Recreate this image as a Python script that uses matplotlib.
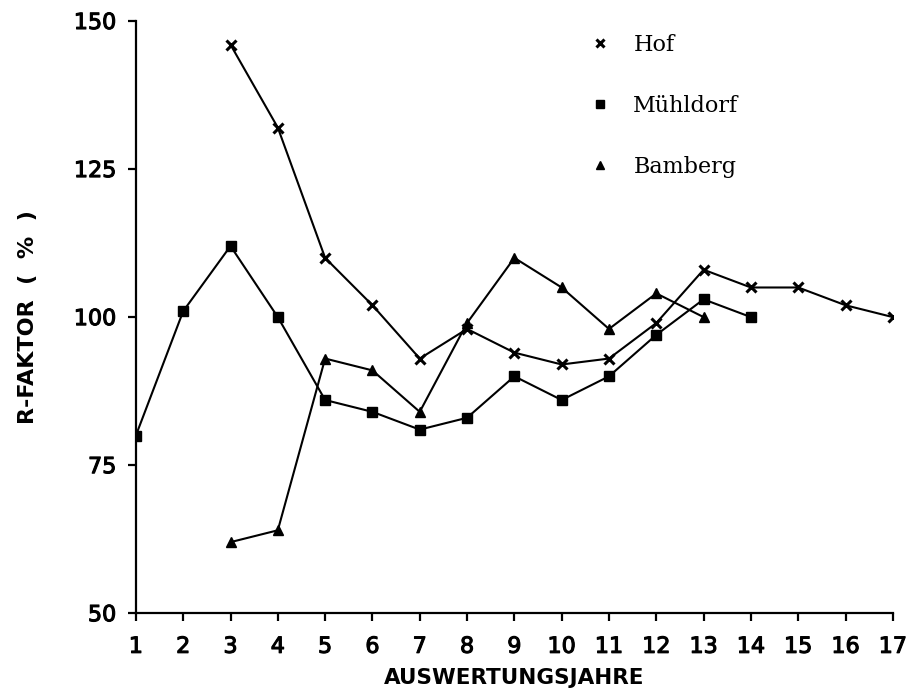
import numpy as np
import matplotlib
matplotlib.use("Agg")
import matplotlib.pyplot as plt
from matplotlib.lines import Line2D
import matplotlib.patheffects as pe

# R-Faktor je Auswertungsjahr
hof_x = [3, 4, 5, 6, 7, 8, 9, 10, 11, 12, 13, 14, 15, 16, 17]
hof_y = [146, 132, 110, 102, 93, 98, 94, 92, 93, 99, 108, 105, 105, 102, 100]

muehldorf_x = [1, 2, 3, 4, 5, 6, 7, 8, 9, 10, 11, 12, 13, 14]
muehldorf_y = [80, 101, 112, 100, 86, 84, 81, 83, 90, 86, 90, 97, 103, 100]

bamberg_x = [3, 4, 5, 6, 7, 8, 9, 10, 11, 12, 13]
bamberg_y = [62, 64, 93, 91, 84, 99, 110, 105, 98, 104, 100]

x_ticks = list(range(1, 18))
y_ticks = [50, 75, 100, 125, 150]

fig = plt.figure(figsize=(9.12, 7.0), dpi=100)
ax = fig.add_axes([0.149, 0.124, 0.83, 0.846])

# Linien mit Markern
ax.plot(hof_x, hof_y, color="black", lw=1.5, marker="x", ms=7, mew=2.2)
ax.plot(muehldorf_x, muehldorf_y, color="black", lw=1.5, marker="s", ms=7)
ax.plot(bamberg_x, bamberg_y, color="black", lw=1.5, marker="^", ms=7)

ax.set_xlim(1, 17)
ax.set_ylim(50, 150)
ax.set_xticks(x_ticks)
ax.set_yticks(y_ticks)

for s in ["top", "right"]:
    ax.spines[s].set_visible(False)
for s in ["left", "bottom"]:
    ax.spines[s].set_linewidth(1.6)

ax.tick_params(axis="both", direction="out", length=6, width=1.6,
               labelsize=16)
ax.tick_params(axis="x", pad=11)
ax.tick_params(axis="y", pad=8)

# etwas kraeftigere Ziffern wie beim Plotter
for lab in ax.get_xticklabels() + ax.get_yticklabels():
    lab.set_path_effects([pe.withStroke(linewidth=0.8, foreground="black")])

ax.set_xlabel("AUSWERTUNGSJAHRE", fontsize=15.5, fontweight="bold", labelpad=8)
ax.set_ylabel("R-FAKTOR  (  %  )", fontsize=16, fontweight="bold", labelpad=26)

# Legende nur mit Markern
handles = [
    Line2D([], [], ls="none", color="black", marker="x", ms=5.5, mew=2.2),
    Line2D([], [], ls="none", color="black", marker="s", ms=5.5),
    Line2D([], [], ls="none", color="black", marker="^", ms=5.5),
]
ax.legend(handles, ["Hof", "Mühldorf", "Bamberg"], frameon=False,
          loc="upper left", bbox_to_anchor=(0.572, 1.012),
          prop={"family": "DejaVu Serif", "size": 16},
          labelspacing=1.75, handletextpad=1.0, handlelength=1.0)

fig.savefig("out.png", dpi=100, facecolor="white")
